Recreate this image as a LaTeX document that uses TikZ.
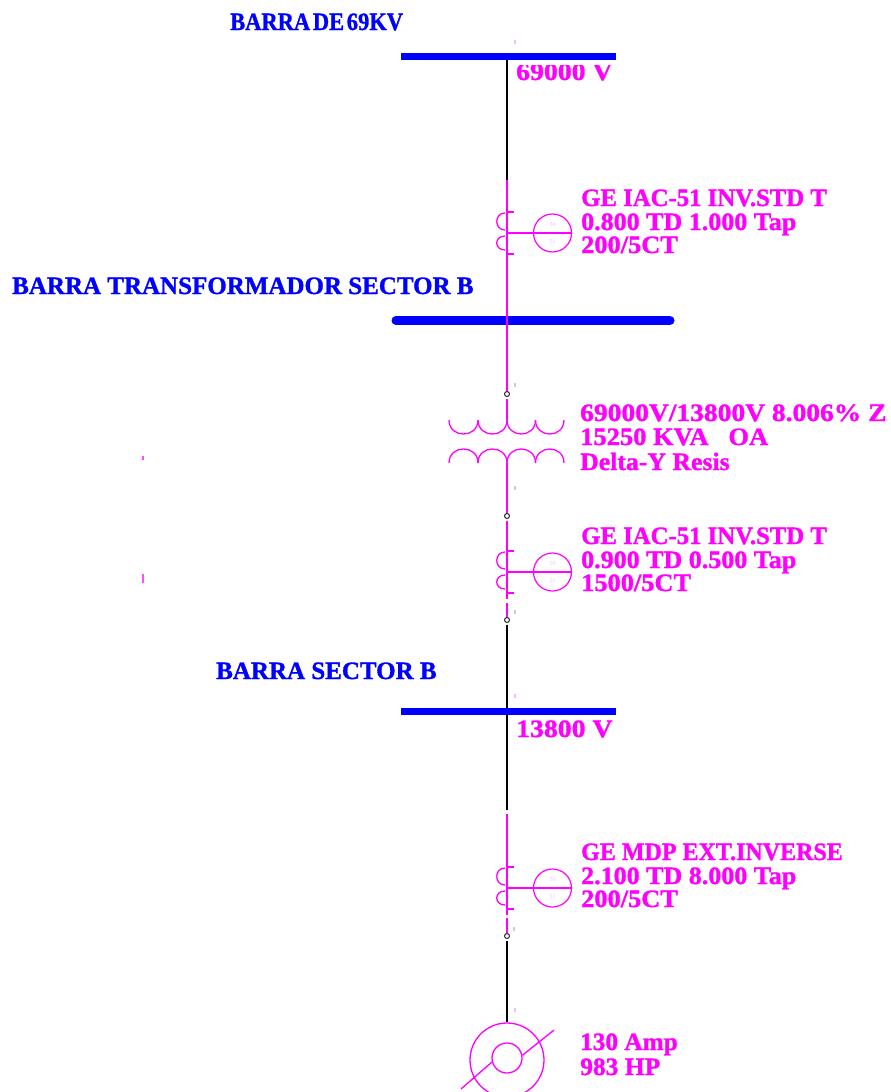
\documentclass[tikz,border=0pt]{standalone}
\usepackage{graphicx}
\usepackage{fontspec}
\setmainfont[BoldFeatures={FakeBold=1.2}]{Liberation Serif}
\definecolor{mag}{RGB}{255,0,255}
\definecolor{busblue}{RGB}{0,0,255}
\definecolor{faintmag}{RGB}{245,190,245}
\newcommand{\ft}[2]{\scalebox{#1}[1]{#2}}
\tikzset{
  x=1pt,y=-1pt,
  lbl/.style={inner sep=0pt,anchor=base west,font=\bfseries\fontsize{25}{25}\selectfont,text=mag},
  buslbl/.style={inner sep=0pt,anchor=base west,font=\bfseries\fontsize{25}{25}\selectfont,text=busblue},
  busbar/.style={line width=#1,draw=busblue},
  wire/.style={line width=1.6pt,draw=black},
  mwire/.style={line width=1.6pt,draw=mag},
  sym/.style={line width=1.3pt,draw=mag},
  junction/.style={circle,draw=black!85,line width=1pt,fill=white,minimum size=5pt,inner sep=0pt},
  relay/.style={circle,draw=mag,line width=1.2pt,minimum size=38pt,inner sep=0pt},
  tiny/.style={inner sep=0pt,font=\fontsize{6}{6}\selectfont,text=faintmag},
  speck/.style={fill=faintmag,draw=none,minimum width=2.5pt,minimum height=4.5pt,inner sep=0pt},
}
\newcommand{\ctcoil}[1]{%
  \draw[sym] (507,#1-21) -- (514,#1-21);
  \draw[sym] (507,#1+21) -- (514,#1+21);
  \draw[sym] (505,#1-20) .. controls (494,#1-20) and (494,#1-3) .. (505,#1-3);
  \draw[sym] (505,#1+3) .. controls (494,#1+3) and (494,#1+17) .. (505,#1+17);
}
\begin{document}
\begin{tikzpicture}
\useasboundingbox (0,0) rectangle (891,1092);
\clip (0,0) rectangle (891,1092);
% clipped label under the first bar
\begin{scope}
  \clip (500,65.5) rectangle (640,100);
  \node[lbl] (v1) at (516,80) {\ft{1.11}{69000 V}};
\end{scope}
% bus bars
\coordinate (b1l) at (401,56); \coordinate (b1r) at (616,56);
\coordinate (b2l) at (396,320.5); \coordinate (b2r) at (670,320.5);
\coordinate (b3l) at (401,711); \coordinate (b3r) at (616,711);
\coordinate (t1) at (507,56); \coordinate (t2) at (507,320); \coordinate (t3) at (507,711);
% junctions and taps
\coordinate (m1) at (507,180);
\coordinate (r1) at (507,233);
\coordinate (r2) at (507,572);
\coordinate (r3) at (507,888);
\coordinate (tp) at (507,420);
\coordinate (ts) at (507,463);
\coordinate (c2) at (507,599);
\coordinate (d2) at (507,603);
\coordinate (k1) at (507,810);
\coordinate (k2) at (507,814);
\coordinate (c3) at (507,915);
\coordinate (d3) at (507,918);
\node[relay] (rl1) at (552.5,233) {};
\node[relay] (rl2) at (552.5,572) {};
\node[relay] (rl3) at (552.5,888) {};
\node[junction] (j1) at (507,394) {};
\node[junction] (j2) at (507,516) {};
\node[junction] (j3) at (507,620) {};
\node[junction] (j4) at (507,936) {};
\node[circle,draw=mag,line width=1.3pt,minimum size=74pt,inner sep=0pt] (mot) at (507,1060) {};
\node[circle,draw=mag,line width=1.3pt,minimum size=30pt,inner sep=0pt] (rot) at (507,1058) {};
% wires
\draw[wire] (t1) -- (m1);
\draw[mwire] (m1) -- (r1) -- (t2) -- (j1);
\draw[mwire,shorten <=1.5pt] (j1) -- (tp);
\draw[mwire] (ts) -- (j2);
\draw[mwire,shorten <=1.5pt] (j2) -- (r2) -- (c2);
\draw[mwire] (d2) -- (j3);
\draw[wire,shorten <=1.5pt] (j3) -- (t3) -- (k1);
\draw[mwire] (k2) -- (r3) -- (c3);
\draw[mwire] (d3) -- (j4);
\draw[wire,shorten <=1.5pt] (j4) -- (mot);
\draw[mwire] (r1) -- (rl1.east);
\draw[mwire] (r2) -- (rl2.east);
\draw[mwire] (r3) -- (rl3.east);
% bus bars on top
\draw[busbar=7pt] (b1l) -- (b1r);
\draw[busbar=9pt,line cap=round] (b2l) -- (b2r);
\draw[busbar=7pt] (b3l) -- (b3r);
\draw[mwire] (t2) ++(0,-5) -- ++(0,10);
% current transformers
\ctcoil{233}
\ctcoil{572}
\ctcoil{888}
% transformer windings
\foreach \a/\b in {449/478,478/507,507/535.5,535.5/564}{
  \draw[sym] (\a,420) .. controls (\a,438.7) and (\b,438.7) .. (\b,420);
  \draw[sym] (\a,463) .. controls (\a,444.3) and (\b,444.3) .. (\b,463);
}
% motor slash
\coordinate (s1) at (461,1089); \coordinate (s2) at (554,1030);
\draw[sym] (s1) -- (rot.195);
\draw[sym] (rot.10) -- (s2);
% relay faint labels
\foreach \r/\y in {rl1/233,rl2/572,rl3/888}{
  \node[tiny] (\r a) at (552.5,\y-8) {50};
  \node[tiny] (\r b) at (552.5,\y+9) {51};
}
% specks
\node[speck] (sa) at (515,42) {};
\node[speck,fill=black!20] (sb) at (515,385) {};
\node[speck,fill=black!20] (sc) at (515,488) {};
\node[speck,fill=black!20] (sd) at (515,612) {};
\node[speck] (se) at (515,696) {};
\node[speck,fill=black!20] (sf) at (514,929) {};
\node[speck] (sg) at (515,1010) {};
\node[speck,fill=mag!70,minimum width=1.5pt] (sh) at (143,458) {};
\node[speck,fill=mag!70,minimum width=1.5pt,minimum height=9pt] (si) at (143,578) {};
% labels
\node[buslbl] (l1) at (230,30) {\ft{.90}{BARRA\hspace{.12em}DE\hspace{.12em}69KV}};
\node[buslbl] (l2) at (12,294) {\ft{1.0}{BARRA TRANSFORMADOR SECTOR B}};
\node[buslbl] (l3) at (216,679) {\ft{1.0}{BARRA SECTOR B}};
\node[lbl] (v3) at (516,737) {\ft{1.11}{13800 V}};
\node[lbl] (a1) at (581,206) {\ft{.99}{GE IAC-51 INV.STD T}};
\node[lbl] (a2) at (581,230) {\ft{1.04}{0.800 TD 1.000 Tap}};
\node[lbl] (a3) at (581,253) {\ft{1.055}{200/5CT}};
\node[lbl] (x1) at (580,421) {\ft{1.10}{69000V/13800V 8.006\% Z}};
\node[lbl] (x2) at (580,445) {\ft{1.06}{15250 KVA \ \ OA}};
\node[lbl] (x3) at (580,470) {\ft{1.03}{Delta-Y Resis}};
\node[lbl] (b1) at (581,544) {\ft{.99}{GE IAC-51 INV.STD T}};
\node[lbl] (b2) at (581,568) {\ft{1.04}{0.900 TD 0.500 Tap}};
\node[lbl] (b3) at (581,591) {\ft{1.055}{1500/5CT}};
\node[lbl] (c1) at (581,860) {\ft{.96}{GE MDP EXT.INVERSE}};
\node[lbl] (c2l) at (581,884) {\ft{1.04}{2.100 TD 8.000 Tap}};
\node[lbl] (c3l) at (581,907) {\ft{1.055}{200/5CT}};
\node[lbl] (m1l) at (580,1050) {\ft{1.01}{130 Amp}};
\node[lbl] (m2l) at (580,1075) {\ft{1.02}{983 HP}};
\end{tikzpicture}
\end{document}
